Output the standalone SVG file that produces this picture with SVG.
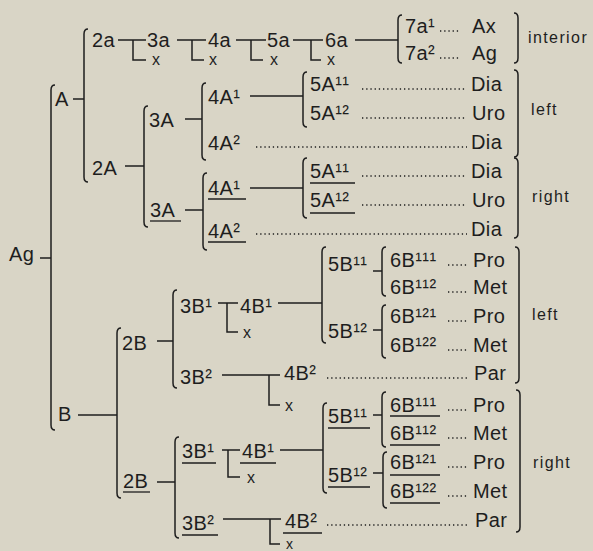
<svg xmlns="http://www.w3.org/2000/svg" width="593" height="551" viewBox="0 0 593 551">
<style>
text{font-family:"Liberation Sans",Arial,Helvetica,sans-serif;font-size:20px;fill:#1e1e1e;letter-spacing:0.4px}
.x{font-size:16px}
.lab{font-size:16px;letter-spacing:1.4px}
.ln{stroke:#1e1e1e;stroke-width:1.5;fill:none}
.ul{stroke:#1e1e1e;stroke-width:1.3;fill:none}
.dot{stroke:#1e1e1e;stroke-width:1.4;fill:none;stroke-dasharray:1.3 2.9}
</style>
<rect width="593" height="551" fill="#d9d5c6"/>
<g id="connectors">
<path class="ln" d="M40 258 H51"/>
<path class="ln" d="M55 85 Q51 85 51 90 V425 Q51 430 55 430"/>
<path class="ln" d="M73 99 H84"/>
<path class="ln" d="M88 29 Q84 29 84 34 V177 Q84 182 88 182"/>
<path class="ln" d="M118 40 H146 M133 40 V60 H146"/>
<path class="ln" d="M177 40 H206 M192 40 V60 H204"/>
<path class="ln" d="M236 40 H266 M251 40 V60 H263"/>
<path class="ln" d="M293 40 H323 M311 40 V60 H321"/>
<path class="ln" d="M355 40 H398"/>
<path class="ln" d="M402 15 Q398 15 398 20 V58 Q398 63 402 63"/>
<path class="dot" d="M440 31 H460 M440 58 H460"/>
<path class="ln" d="M125 166 H144"/>
<path class="ln" d="M148 106 Q144 106 144 111 V222 Q144 227 148 227"/>
<path class="ln" d="M185 119 H202"/>
<path class="ln" d="M206 83 Q202 83 202 88 V155 Q202 160 206 160"/>
<path class="ln" d="M250 96 H303"/>
<path class="ln" d="M307 72 Q303 72 303 77 V122 Q303 127 307 127"/>
<path class="dot" d="M362 89 H467 M362 118 H467 M256 147 H467"/>
<path class="ln" d="M185 210 H203"/>
<path class="ln" d="M207 173 Q203 173 203 178 V245 Q203 250 207 250"/>
<path class="ln" d="M250 188 H303"/>
<path class="ln" d="M307 158 Q303 158 303 163 V213 Q303 218 307 218"/>
<path class="dot" d="M362 176 H467 M362 205 H467 M256 234 H467"/>
<path class="ln" d="M78 415 H117"/>
<path class="ln" d="M121 328 Q117 328 117 333 V493 Q117 498 121 498"/>
<path class="ln" d="M157 341 H173"/>
<path class="ln" d="M177 290 Q173 290 173 295 V383 Q173 388 177 388"/>
<path class="ln" d="M218 303 H238 M227 303 V332 H238"/>
<path class="ln" d="M278 303 H322"/>
<path class="ln" d="M326 247 Q322 247 322 252 V338 Q322 343 326 343"/>
<path class="ln" d="M373 271 H382"/>
<path class="ln" d="M386 247 Q382 247 382 252 V291 Q382 296 386 296"/>
<path class="ln" d="M373 330 H382"/>
<path class="ln" d="M386 305 Q382 305 382 310 V353 Q382 358 386 358"/>
<path class="dot" d="M448 265 H468 M448 292 H468 M448 321 H468 M448 350 H468"/>
<path class="ln" d="M222 375 H280 M269 375 V405 H280"/>
<path class="dot" d="M327 378 H467"/>
<path class="ln" d="M157 482 H175"/>
<path class="ln" d="M179 437 Q175 437 175 442 V533 Q175 538 179 538"/>
<path class="ln" d="M222 450 H240 M228 450 V477 H240"/>
<path class="ln" d="M280 450 H323"/>
<path class="ln" d="M327 403 Q323 403 323 408 V488 Q323 493 327 493"/>
<path class="ln" d="M373 415 H382"/>
<path class="ln" d="M386 392 Q382 392 382 397 V442 Q382 447 386 447"/>
<path class="ln" d="M373 473 H383"/>
<path class="ln" d="M387 452 Q383 452 383 457 V503 Q383 508 387 508"/>
<path class="dot" d="M448 410 H468 M448 438 H468 M448 467 H468 M448 496 H468"/>
<path class="ln" d="M223 519 H281 M270 519 V544 H280"/>
<path class="dot" d="M327 525 H467"/>
</g>
<g id="node-Ag"><text x="9" y="261">Ag</text></g>
<g id="node-A"><text x="55" y="106">A</text></g>
<g id="node-2a"><text x="92" y="47">2a</text></g>
<g id="node-3a"><text x="147" y="47">3a</text><text class="x" x="152" y="65">x</text></g>
<g id="node-4a"><text x="208" y="47">4a</text><text class="x" x="209" y="65">x</text></g>
<g id="node-5a"><text x="267" y="47">5a</text><text class="x" x="270" y="65">x</text></g>
<g id="node-6a"><text x="325" y="47">6a</text><text class="x" x="327" y="65">x</text></g>
<g id="node-7a1"><text x="405" y="33">7a¹</text><text x="472" y="33">Ax</text></g>
<g id="node-7a2"><text x="405" y="60">7a²</text><text x="472" y="60">Ag</text></g>
<g id="region-interior"><path class="ln" d="M514 13 Q518 13 518 18 V58 Q518 63 514 63"/><text class="lab" x="528" y="43">interior</text></g>
<g id="node-2A"><text x="92" y="175">2A</text></g>
<g id="node-3A-left"><text x="149" y="127">3A</text></g>
<g id="node-4A1-left"><text x="208" y="104">4A¹</text></g>
<g id="node-5A11-left"><text x="310" y="91">5A¹¹</text><text x="471" y="91">Dia</text></g>
<g id="node-5A12-left"><text x="310" y="120">5A¹²</text><text x="472" y="120">Uro</text></g>
<g id="node-4A2-left"><text x="208" y="150">4A²</text><text x="471" y="149">Dia</text></g>
<g id="region-left-A"><path class="ln" d="M514 70 Q518 70 518 75 V152 Q518 157 514 157"/><text class="lab" x="531" y="115">left</text></g>
<g id="node-3A-right"><text x="150" y="217">3A</text><path class="ul" d="M150 221 H181"/></g>
<g id="node-4A1-right"><text x="208" y="195">4A¹</text><path class="ul" d="M208 199 H246"/></g>
<g id="node-5A11-right"><text x="310" y="178">5A¹¹</text><path class="ul" d="M310 183 H355"/><text x="471" y="178">Dia</text></g>
<g id="node-5A12-right"><text x="310" y="207">5A¹²</text><path class="ul" d="M310 213 H355"/><text x="472" y="207">Uro</text></g>
<g id="node-4A2-right"><text x="208" y="238">4A²</text><path class="ul" d="M208 242 H246"/><text x="471" y="236">Dia</text></g>
<g id="region-right-A"><path class="ln" d="M514 158 Q518 158 518 163 V233 Q518 238 514 238"/><text class="lab" x="532" y="202">right</text></g>
<g id="node-B"><text x="58" y="421">B</text></g>
<g id="node-2B-left"><text x="122" y="350">2B</text></g>
<g id="node-3B1-left"><text x="180" y="313">3B¹</text></g>
<g id="node-4B1-left"><text x="240" y="313">4B¹</text><text class="x" x="243" y="338">x</text></g>
<g id="node-5B11-left"><text x="328" y="271">5B¹¹</text></g>
<g id="node-6B111-left"><text x="390" y="267">6B¹¹¹</text><text x="473" y="267">Pro</text></g>
<g id="node-6B112-left"><text x="390" y="294">6B¹¹²</text><text x="473" y="294">Met</text></g>
<g id="node-5B12-left"><text x="328" y="338">5B¹²</text></g>
<g id="node-6B121-left"><text x="390" y="323">6B¹²¹</text><text x="473" y="323">Pro</text></g>
<g id="node-6B122-left"><text x="390" y="352">6B¹²²</text><text x="473" y="352">Met</text></g>
<g id="node-3B2-left"><text x="180" y="384">3B²</text></g>
<g id="node-4B2-left"><text x="284" y="380">4B²</text><text class="x" x="285" y="411">x</text><text x="474" y="380">Par</text></g>
<g id="region-left-B"><path class="ln" d="M515 247 Q519 247 519 252 V378 Q519 383 515 383"/><text class="lab" x="532" y="320">left</text></g>
<g id="node-2B-right"><text x="123" y="488">2B</text><path class="ul" d="M123 492 H150"/></g>
<g id="node-3B1-right"><text x="182" y="458">3B¹</text><path class="ul" d="M182 463 H216"/></g>
<g id="node-4B1-right"><text x="242" y="458">4B¹</text><path class="ul" d="M240 463 H276"/><text class="x" x="247" y="483">x</text></g>
<g id="node-5B11-right"><text x="328" y="423">5B¹¹</text><path class="ul" d="M328 428 H370"/></g>
<g id="node-6B111-right"><text x="390" y="412">6B¹¹¹</text><path class="ul" d="M390 416 H440"/><text x="473" y="412">Pro</text></g>
<g id="node-6B112-right"><text x="390" y="440">6B¹¹²</text><path class="ul" d="M390 445 H440"/><text x="473" y="440">Met</text></g>
<g id="node-5B12-right"><text x="328" y="482">5B¹²</text><path class="ul" d="M328 487 H370"/></g>
<g id="node-6B121-right"><text x="390" y="469">6B¹²¹</text><path class="ul" d="M390 475 H440"/><text x="473" y="469">Pro</text></g>
<g id="node-6B122-right"><text x="390" y="498">6B¹²²</text><path class="ul" d="M390 503 H440"/><text x="473" y="498">Met</text></g>
<g id="node-3B2-right"><text x="182" y="530">3B²</text><path class="ul" d="M182 535 H218"/></g>
<g id="node-4B2-right"><text x="285" y="528">4B²</text><path class="ul" d="M283 533 H322"/><text class="x" x="286" y="549" style="font-size:14px">x</text><text x="475" y="527">Par</text></g>
<g id="region-right-B"><path class="ln" d="M516 390 Q520 390 520 395 V527 Q520 532 516 532"/><text class="lab" x="533" y="468">right</text></g>
</svg>
